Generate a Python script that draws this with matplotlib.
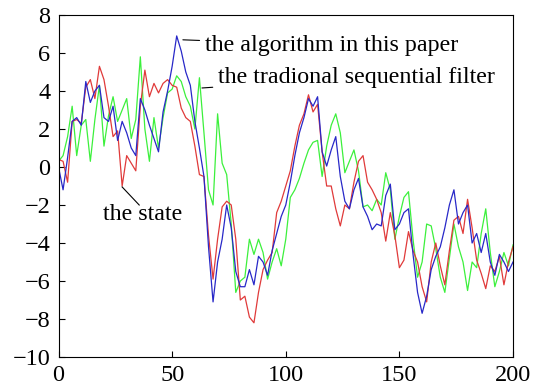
import numpy as np
import matplotlib
matplotlib.use("Agg")
import matplotlib.pyplot as plt

plt.rcParams['font.family'] = ['Liberation Serif', 'DejaVu Serif']

# sample positions (every 2 steps)
x = np.arange(0, 201, 2)

state = [0.4, 0.3, -0.8, 2.4, 2.5, 2.3, 4.2, 4.6, 3.6, 5.3,
         4.6, 3.2, 1.6, 1.9, -1.0, 0.6, 0.2, -0.2, 3.2, 5.1,
         3.7, 4.4, 3.9, 4.4, 4.6, 4.3, 4.2, 3.1, 2.6, 2.4,
         1.1, -0.4, -0.5, -3.6, -5.9, -3.8, -2.1, -1.8, -2.0, -3.8,
         -7.0, -6.8, -7.9, -8.2, -6.6, -5.4, -4.9, -4.5, -2.4, -1.8,
         -1.0, -0.2, 1.1, 2.2, 2.8, 3.8, 2.9, 3.3, 0.8, -1.0,
         -1.0, -2.2, -3.1, -2.0, -2.2, -0.8, 0.3, 0.6, -0.8, -1.2,
         -1.7, -2.4, -3.9, -2.4, -3.6, -5.3, -4.9, -3.4, -4.4, -5.0,
         -6.3, -7.1, -5.0, -4.0, -5.2, -6.2, -4.4, -2.8, -2.6, -3.5,
         -1.7, -3.2, -4.9, -5.6, -6.4, -5.2, -5.5, -4.7, -6.2, -5.0,
         -4.2]

proposed = [0.0, -1.2, 0.5, 2.4, 2.6, 2.2, 4.5, 3.4, 4.0, 4.3,
            2.6, 2.4, 3.2, 1.4, 2.4, 1.8, 1.0, 0.6, 3.6, 3.0,
            2.2, 1.5, 0.8, 2.9, 4.0, 5.3, 6.9, 6.1, 5.0, 4.3,
            2.4, 1.0, -0.5, -4.2, -7.1, -5.0, -3.8, -2.0, -3.2, -5.5,
            -6.3, -6.3, -5.4, -6.2, -4.7, -5.0, -5.7, -4.4, -3.5, -2.6,
            -2.0, -0.8, 0.6, 1.8, 2.6, 3.6, 3.2, 3.7, 0.8, 0.05,
            0.9, 1.6, -0.5, -1.8, -2.2, -1.2, -0.6, -2.1, -2.6, -3.3,
            -3.0, -3.1, -1.5, -0.9, -3.3, -3.0, -2.4, -2.2, -4.6, -6.6,
            -7.7, -6.8, -5.4, -4.7, -4.2, -3.2, -2.0, -1.2, -3.0, -2.4,
            -2.0, -4.0, -3.5, -4.5, -3.5, -5.0, -5.7, -4.6, -5.0, -5.5,
            -5.0]

sequential = [0.3, 0.6, 1.6, 3.2, 0.6, 2.2, 2.5, 0.3, 2.5, 4.3,
              1.1, 2.7, 3.7, 2.4, 3.0, 3.6, 1.5, 2.5, 5.8, 2.0,
              0.3, 2.6, 1.0, 2.6, 3.9, 4.1, 4.8, 4.5, 3.7, 3.2,
              2.0, 4.7, 1.8, -1.2, -2.0, 2.8, 0.2, -0.4, -3.0, -6.6,
              -6.0, -5.8, -3.8, -4.6, -3.8, -4.5, -5.9, -5.0, -4.3, -5.2,
              -3.8, -1.6, -1.2, -0.6, 0.2, 0.9, 1.3, 1.4, -0.5, 1.1,
              2.2, 2.8, 1.8, -0.3, 0.3, 0.9, -0.2, -2.1, -2.0, -2.3,
              -1.7, -2.0, -0.3, -1.2, -3.8, -2.6, -1.6, -1.3, -3.8, -5.8,
              -5.0, -3.0, -3.1, -4.3, -5.8, -6.6, -4.8, -3.0, -4.2, -5.0,
              -6.5, -5.0, -5.3, -3.5, -2.2, -4.5, -6.3, -5.5, -4.5, -5.2,
              -4.1]

fig = plt.figure(figsize=(5.34, 3.87), dpi=100)
ax = fig.add_axes([0.1096, 0.0775, 0.8511, 0.8837])

ax.plot(x, sequential, color='#3cf03c', lw=0.9)
ax.plot(x, state, color='#e03a3a', lw=0.9)
ax.plot(x, proposed, color='#2828c8', lw=0.9)

ax.set_xlim(0, 200)
ax.set_ylim(-10, 8)
ax.set_xticks([0, 50, 100, 150, 200])
ax.set_yticks(np.arange(-10, 9, 2))
ax.tick_params(direction='in', length=4, labelsize=17.5, pad=6)

# labels with leader lines
ax.annotate('the algorithm in this paper', xy=(53.5, 6.7), xytext=(64.5, 6.4),
            fontsize=17.3, va='center', ha='left',
            arrowprops=dict(arrowstyle='-', color='black', lw=0.8))
ax.annotate('the tradional sequential filter', xy=(61.9, 4.15), xytext=(70.3, 4.7),
            fontsize=17.3, va='center', ha='left',
            arrowprops=dict(arrowstyle='-', color='black', lw=0.8))
ax.plot([28, 35.5], [-1.05, -2.0], color='black', lw=0.8)
ax.text(19.6, -2.5, 'the state', fontsize=17.3, va='center', ha='left')

fig.savefig('out.png', dpi=100)
